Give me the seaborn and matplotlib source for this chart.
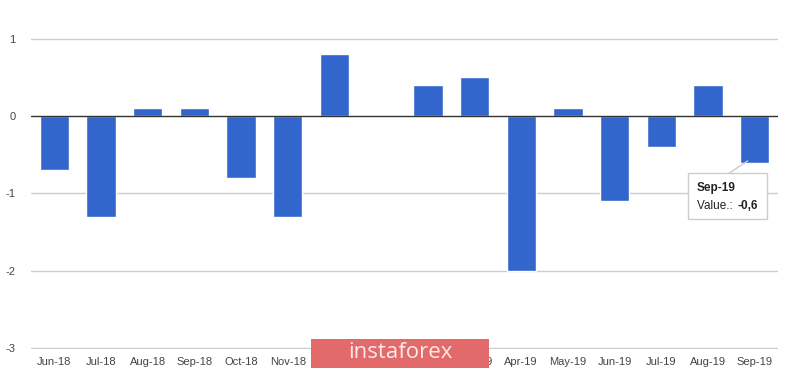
import pandas as pd
import matplotlib.pyplot as plt
import seaborn as sns
from matplotlib.patches import Rectangle

# --- Donnees ---
months = ["Jun-18", "Jul-18", "Aug-18", "Sep-18", "Oct-18", "Nov-18", "Dec-18", "Jan-19",
          "Feb-19", "Mar-19", "Apr-19", "May-19", "Jun-19", "Jul-19", "Aug-19", "Sep-19"]
values = [-0.7, -1.3, 0.1, 0.1, -0.8, -1.3, 0.8, 0.0,
          0.4, 0.5, -2.0, 0.1, -1.1, -0.4, 0.4, -0.6]
y_ticks = [1, 0, -1, -2, -3]

df = pd.DataFrame({"month": months, "value": values})

sns.set_style("white")
plt.rcParams["font.family"] = ["Liberation Sans", "DejaVu Sans"]

fig = plt.figure(figsize=(8, 3.7), dpi=100)
ax = fig.add_axes([31 / 800, 21 / 370, 747 / 800, 349 / 370])

sns.barplot(data=df, x="month", y="value", color="#3366cc", saturation=1,
            width=0.63, ax=ax, zorder=3)

ax.set_xlim(-0.5, len(months) - 0.5)
ax.set_ylim(-3.01, 1.5)
ax.set_yticks(y_ticks)
ax.set_yticklabels([str(t) for t in y_ticks])
for t in y_ticks:
    if t == 0:
        ax.axhline(t, color="#333333", lw=1, zorder=4)
    else:
        ax.axhline(t, color="#cccccc", lw=1, zorder=1)

ax.set_xlabel("")
ax.set_ylabel("")
for s in ax.spines.values():
    s.set_visible(False)
ax.tick_params(axis="both", length=0, labelsize=8, colors="#444444")
ax.tick_params(axis="x", pad=6)
ax.tick_params(axis="y", pad=11)

# --- Tooltip Sep-19 ---
last = len(months) - 1
ax.plot([last - 0.55, last - 0.15], [-0.74, -0.58], color="#cccccc", lw=1, zorder=5)
fig.patches.append(Rectangle((688 / 800, 1 - 219 / 370), 79 / 800, 46 / 370,
                             transform=fig.transFigure, facecolor="white",
                             edgecolor="#cccccc", lw=1, zorder=6))
fig.text(697 / 800, 1 - 188 / 370, months[-1], fontsize=8.5, fontweight="bold",
         color="#222222", va="center", zorder=7)
fig.text(697 / 800, 1 - 206 / 370, "Value.: ", fontsize=8.5, color="#222222",
         va="center", zorder=7)
fig.text(738 / 800, 1 - 206 / 370, f"{values[-1]:.1f}".replace(".", ","), fontsize=8.5,
         fontweight="bold", color="#222222", va="center", zorder=7)

# --- Filigrane ---
fig.patches.append(Rectangle((311 / 800, 2 / 370), 178 / 800, 29 / 370,
                             transform=fig.transFigure, facecolor="#e26a6a",
                             edgecolor="none", zorder=8))
fig.text(400 / 800, 17 / 370, "instaforex", fontsize=16, color="#fbeaea",
         family=["Open Sans", "DejaVu Sans"], ha="center", va="center", zorder=9)

plt.savefig("out.png", dpi=100)
plt.close()
